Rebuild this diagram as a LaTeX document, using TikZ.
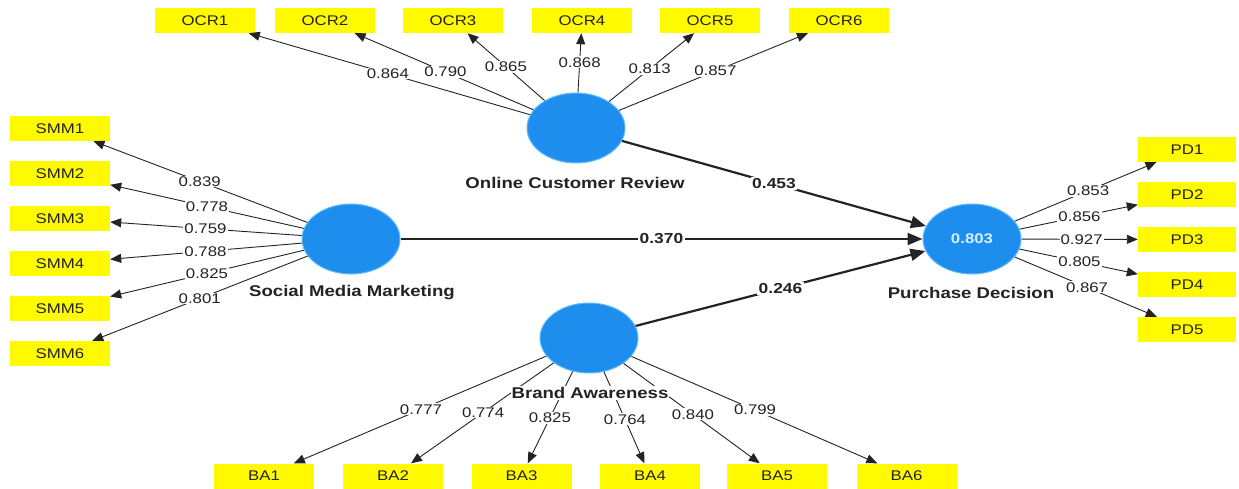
\documentclass[tikz,border=0pt]{standalone}
\usepackage{fontspec}
\setmainfont{Liberation Sans}[FakeStretch=1.2]
\usetikzlibrary{arrows.meta,calc,shapes.geometric}

\definecolor{latentblue}{RGB}{30,142,238}
\definecolor{latentrim}{RGB}{100,188,250}
\definecolor{indyellow}{RGB}{255,250,0}
\definecolor{linegray}{RGB}{35,35,35}
\definecolor{inktext}{RGB}{35,35,35}
\definecolor{r2text}{RGB}{215,240,255}

\tikzset{
  latent/.style={ellipse, fill=latentblue, draw=latentrim, line width=1pt,
    minimum width=98pt, minimum height=70pt, inner sep=0pt},
  indicator/.style={rectangle, fill=indyellow, minimum width=100pt,
    minimum height=25pt, inner sep=0pt, text=inktext,
    font=\fontsize{14}{16}\selectfont},
  loading/.style={draw=linegray, line width=0.9pt,
    -{Triangle[length=11pt,width=9pt]}},
  pathcoef/.style={draw=linegray, line width=2.2pt,
    -{Triangle[length=15pt,width=12pt]}},
  wlabel/.style={fill=white, inner sep=1pt, text=inktext,
    font=\fontsize{14}{16}\selectfont},
  blabel/.style={fill=white, inner sep=1.5pt, text=inktext,
    font=\bfseries\fontsize{14.5}{16}\selectfont},
  caption/.style={fill=white, inner sep=1pt, text=inktext,
    font=\bfseries\fontsize{15.5}{18}\selectfont},
}

\begin{document}
\begin{tikzpicture}[x=1pt,y=-1pt]
\useasboundingbox (0,0) rectangle (1239,489);

% latent constructs
\node[latent] (ocr) at (576,128) {};
\node[latent] (smm) at (351,239) {};
\node[latent] (pd)  at (972,239) {\textcolor{r2text}{\bfseries\fontsize{14}{16}\selectfont 0.803}};
\node[latent] (ba)  at (589,338) {};

% indicators
\foreach \i/\x in {1/205,2/325,3/453,4/582,5/710,6/839}
  \node[indicator] (ocr\i) at (\x,20.5) {OCR\i};
\foreach \i in {1,...,6}
  \node[indicator] (smm\i) at (60,{128.5+45*(\i-1)}) {SMM\i};
\foreach \i in {1,...,5}
  \node[indicator, minimum width=98pt] (pd\i) at (1187,{149.5+45*(\i-1)}) {PD\i};
\foreach \i/\x in {1/264,2/393,3/521.5,4/650,5/777,6/906.5}
  \node[indicator] (ba\i) at (\x,476) {BA\i};

% outer loadings
\foreach \i/\v/\t in {1/0.864/0.507,2/0.790/0.52,3/0.865/0.57,4/0.868/0.61,5/0.813/0.55,6/0.857/0.53}{
  \draw[loading] (ocr) -- (ocr\i);
  \node[wlabel] (locr\i) at ($(ocr.center)!\t!(ocr\i.center)$) {\v};
}
\foreach \i/\v/\t in {1/0.839/0.52,2/0.778/0.495,3/0.759/0.5,4/0.788/0.5,5/0.825/0.495,6/0.801/0.52}{
  \draw[loading] (smm) -- (smm\i);
  \node[wlabel] (lsmm\i) at ($(smm.center)!\t!(smm\i.center)$) {\v};
}
\foreach \i/\v/\t in {1/0.853/0.54,2/0.856/0.5,3/0.927/0.51,4/0.805/0.5,5/0.867/0.535}{
  \draw[loading] (pd) -- (pd\i);
  \node[wlabel] (lpd\i) at ($(pd.center)!\t!(pd\i.center)$) {\v};
}
\foreach \i/\v/\t in {1/0.777/0.517,2/0.774/0.54,3/0.825/0.58,4/0.764/0.59,5/0.840/0.553,6/0.799/0.523}{
  \draw[loading] (ba) -- (ba\i);
  \node[wlabel] (lba\i) at ($(ba.center)!\t!(ba\i.center)$) {\v};
}

% structural paths
\draw[pathcoef] (ocr) -- node[blabel] (pocr) {0.453} (pd);
\draw[pathcoef] (smm) -- node[blabel] (psmm) {0.370} (pd);
\draw[pathcoef] (ba)  -- node[blabel] (pba)  {0.246} (pd);

% construct names
\node[caption] (ocrcap) at (575,183) {Online Customer Review};
\node[caption] (smmcap) at (352,293) {Social Media Marketing};
\node[caption] (pdcap)  at (971,293) {Purchase Decision};
\node[caption] (bacap)  at (590,393) {Brand Awareness};
\end{tikzpicture}
\end{document}
